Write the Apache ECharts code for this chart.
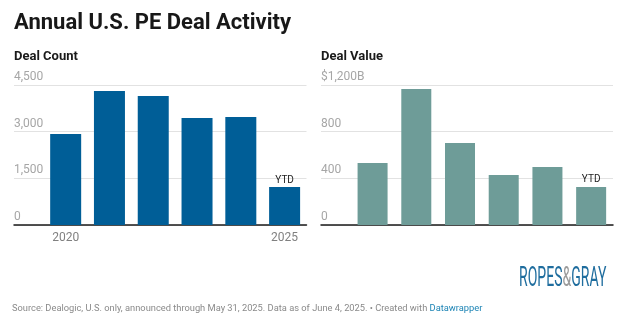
<!DOCTYPE html>
<html>
<head>
<meta charset="utf-8">
<script src="https://cdn.jsdelivr.net/npm/echarts@6/dist/echarts.min.js"></script>
<style>
  html, body { margin: 0; padding: 0; background: #fff; }
  #chart { width: 625px; height: 335px; }
</style>
</head>
<body>
<div id="chart"></div>
<script>
const years = [2020, 2021, 2022, 2023, 2024, 2025];
const dealCount = [2925, 4307, 4146, 3439, 3471, 1221];
const dealValue = [531, 1166, 703, 429, 497, 326];
const countTicks = [0, 1500, 3000, 4500];
const valueTicks = [0, 400, 800, 1200];
const xLabelYears = [2020, 2025];
const ytdLabel = 'YTD';

const fontFamily = 'Roboto, "Noto Sans", sans-serif';
const countColor = '#005e97';
const valueColor = '#6e9c98';

function buildData(vals) {
  return vals.map((v, i) => {
    const item = { value: [years[i], v] };
    if (i === vals.length - 1) {
      item.label = {
        show: true, position: 'top', distance: 2, formatter: ytdLabel,
        color: '#222', fontSize: 10, fontFamily: fontFamily
      };
    }
    return item;
  });
}

const chart = echarts.init(document.getElementById('chart'), null, { renderer: 'canvas' });

function yAxisCfg(gridIndex, ticks, fmt) {
  return {
    type: 'value', gridIndex: gridIndex,
    min: ticks[0], max: ticks[ticks.length - 1], interval: ticks[1] - ticks[0],
    axisLine: { show: false }, axisTick: { show: false },
    splitLine: { show: true, lineStyle: { color: '#e2e2e2', width: 1 } },
    axisLabel: {
      inside: true, margin: 0, verticalAlign: 'bottom', padding: [0, 0, 2, 0],
      color: '#a6a6a6', fontSize: 12, fontFamily: fontFamily, formatter: fmt
    }
  };
}

function xAxisCfg(gridIndex, showLabels) {
  return {
    type: 'value', gridIndex: gridIndex, min: 2018.82, max: 2025.5,
    axisLine: { show: true, lineStyle: { color: '#1a1a1a', width: 1.5 } },
    axisTick: { show: false }, splitLine: { show: false },
    axisLabel: {
      show: showLabels, customValues: xLabelYears, margin: 7,
      color: '#808080', fontSize: 12, fontFamily: fontFamily,
      formatter: v => String(v)
    }
  };
}

chart.setOption({
  animation: false,
  backgroundColor: '#fff',
  textStyle: { fontFamily: fontFamily },
  grid: [
    { left: 14, top: 85, width: 292.5, height: 140 },
    { left: 321, top: 85, width: 292, height: 140 }
  ],
  xAxis: [xAxisCfg(0, true), xAxisCfg(1, false)],
  yAxis: [
    yAxisCfg(0, countTicks, v => v.toLocaleString('en-US')),
    yAxisCfg(1, valueTicks, v => v === valueTicks[valueTicks.length - 1] ? '$' + v.toLocaleString('en-US') + 'B' : String(v))
  ],
  series: [
    { type: 'bar', xAxisIndex: 0, yAxisIndex: 0, barWidth: 31, itemStyle: { color: countColor }, data: buildData(dealCount) },
    { type: 'bar', xAxisIndex: 1, yAxisIndex: 1, barWidth: 30, itemStyle: { color: valueColor }, data: buildData(dealValue) }
  ],
  graphic: [
    { type: 'text', left: 14, top: 12, style: { text: 'Annual U.S. PE Deal Activity', fill: '#181818', font: 'bold 22px ' + fontFamily } },
    { type: 'text', left: 14, top: 50, style: { text: 'Deal Count', fill: '#1a1a1a', font: 'bold 13px ' + fontFamily } },
    { type: 'text', left: 321, top: 50, style: { text: 'Deal Value', fill: '#1a1a1a', font: 'bold 13px ' + fontFamily } },
    { type: 'text', x: 519, y: 266, scaleX: 0.52, style: {
        text: '{b|ROPES}{g|&}{b|GRAY}',
        rich: {
          b: { fill: '#1f6d9e', font: '27px ' + fontFamily },
          g: { fill: '#9a9a9a', font: '27px ' + fontFamily }
        }
      } },
    { type: 'text', left: 12, top: 304, style: {
        text: '{s|Source: Dealogic, U.S. only, announced through May 31, 2025. Data as of June 4, 2025. • Created with }{l|Datawrapper}',
        rich: {
          s: { fill: '#8a8a8a', font: '9.3px ' + fontFamily },
          l: { fill: '#1d84b5', font: '9.3px ' + fontFamily }
        }
      } }
  ]
});
</script>
</body>
</html>
